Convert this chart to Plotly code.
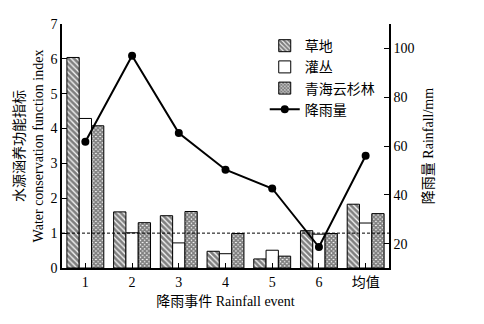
import plotly.graph_objects as go

# Rainfall events (last group is the mean)
events = ["1", "2", "3", "4", "5", "6", "均值"]

# Water conservation function index per vegetation type
grassland = [6.04, 1.61, 1.50, 0.48, 0.26, 1.07, 1.83]
shrubland = [4.29, 1.01, 0.72, 0.41, 0.51, 0.97, 1.29]
spruce = [4.08, 1.30, 1.62, 0.99, 0.34, 0.99, 1.56]

# Rainfall amount (mm)
rainfall = [61.7, 97.0, 65.3, 50.3, 42.6, 18.6, 56.0]

FONT = "Liberation Serif, Times New Roman, Noto Sans CJK SC, serif"

fig = go.Figure()

fig.add_trace(go.Bar(
    x=events, y=grassland, name="草地",
    marker=dict(color="white", line=dict(color="black", width=1),
                pattern=dict(shape="\\", fgcolor="black", bgcolor="white",
                             size=4, solidity=0.7)),
))
fig.add_trace(go.Bar(
    x=events, y=shrubland, name="灌丛",
    marker=dict(color="white", line=dict(color="black", width=1)),
))
fig.add_trace(go.Bar(
    x=events, y=spruce, name="青海云杉林",
    marker=dict(color="white", line=dict(color="black", width=1),
                pattern=dict(shape="x", fgcolor="black", bgcolor="white",
                             size=3, solidity=0.8)),
))
fig.add_trace(go.Scatter(
    x=events, y=rainfall, name="降雨量", yaxis="y2",
    mode="lines+markers",
    line=dict(color="black", width=2),
    marker=dict(color="black", size=8, symbol="circle"),
))

# Reference level of the index
fig.add_shape(type="line", xref="paper", x0=0, x1=1, yref="y", y0=1, y1=1,
              line=dict(color="black", width=1, dash="3px,2px"), layer="above")

fig.update_layout(
    width=484, height=324,
    margin=dict(l=62, r=95, t=24, b=56),
    paper_bgcolor="white", plot_bgcolor="white",
    font=dict(family=FONT, size=14, color="black"),
    barmode="group", bargap=0.21, bargroupgap=0,
    showlegend=True,
    legend=dict(x=0.62, y=0.975, xanchor="left", yanchor="top",
                bgcolor="rgba(0,0,0,0)", font=dict(size=14),
                tracegroupgap=0, itemwidth=30),
    xaxis=dict(
        type="category", range=[-0.5, 6.5],
        showline=True, linecolor="black", linewidth=1.5,
        ticks="inside", ticklen=5, tickcolor="black",
        showgrid=False, zeroline=False,
        tickfont=dict(size=14),
        title=dict(text="降雨事件 Rainfall event", font=dict(size=14), standoff=8),
    ),
    yaxis=dict(
        range=[0, 7], dtick=1,
        showline=True, linecolor="black", linewidth=1.5,
        ticks="inside", ticklen=5, tickcolor="black",
        showgrid=False, zeroline=False,
        tickfont=dict(size=14),
        title=dict(text="水源涵养功能指标<br>Water conservation function index",
                   font=dict(size=14), standoff=4),
    ),
    yaxis2=dict(
        overlaying="y", side="right", range=[10, 110],
        tickvals=[20, 40, 60, 80, 100],
        showline=True, linecolor="black", linewidth=1.5,
        ticks="inside", ticklen=5, tickcolor="black",
        showgrid=False, zeroline=False,
        tickfont=dict(size=14),
        title=dict(text="降雨量 Rainfall/mm", font=dict(size=14), standoff=10),
    ),
)

fig.write_html("out.html")
